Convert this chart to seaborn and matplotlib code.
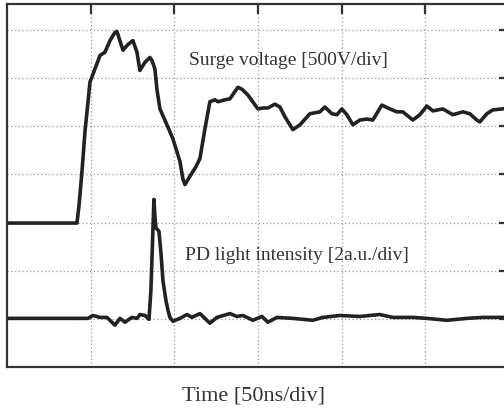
import numpy as np
import pandas as pd
import seaborn as sns
import matplotlib.pyplot as plt

# time axis in divisions (50 ns/div), trace levels in screen divisions
surge_t = [0, 0.824, 0.836, 0.860, 0.896, 0.932, 0.956, 0.992, 1.051, 1.111, 1.171, 1.231,
           1.290, 1.314, 1.386, 1.446, 1.505, 1.553, 1.589, 1.649, 1.708, 1.732, 1.768,
           1.792, 1.828, 1.912, 1.983, 2.067, 2.103, 2.127, 2.186, 2.258, 2.306, 2.366,
           2.425, 2.485, 2.521, 2.604, 2.664, 2.760, 2.808, 2.879, 2.999, 3.059, 3.118,
           3.202, 3.262, 3.321, 3.417, 3.501, 3.620, 3.740, 3.799, 3.883, 3.943, 4.002,
           4.062, 4.134, 4.217, 4.301, 4.373, 4.480, 4.576, 4.659, 4.731, 4.851, 4.934,
           5.018, 5.090, 5.209, 5.329, 5.448, 5.532, 5.615, 5.651, 5.735, 5.806, 5.914, 6.01]
surge_v = [2.99, 2.99, 2.99, 3.34, 4.06, 4.89, 5.30, 5.92, 6.19, 6.47, 6.54, 6.78,
           6.95, 6.97, 6.58, 6.70, 6.78, 6.54, 6.16, 6.33, 6.43, 6.37, 6.19,
           5.77, 5.36, 5.03, 4.74, 4.27, 3.90, 3.79, 3.96, 4.16, 4.33, 4.95,
           5.51, 5.55, 5.51, 5.55, 5.57, 5.81, 5.77, 5.65, 5.36, 5.38, 5.38,
           5.46, 5.40, 5.20, 4.93, 5.03, 5.26, 5.30, 5.40, 5.26, 5.24, 5.36,
           5.24, 5.03, 5.13, 5.15, 5.13, 5.44, 5.36, 5.30, 5.30, 5.13, 5.24,
           5.42, 5.32, 5.36, 5.24, 5.30, 5.26, 5.13, 5.09, 5.26, 5.34, 5.36, 5.38]

pd_t = [0, 0.968, 1.027, 1.111, 1.195, 1.290, 1.350, 1.410, 1.493, 1.553, 1.589, 1.649,
        1.697, 1.720, 1.732, 1.756, 1.768, 1.780, 1.816, 1.840, 1.864, 1.900, 1.924,
        1.947, 1.983, 2.067, 2.151, 2.210, 2.306, 2.425, 2.509, 2.664, 2.748, 2.820,
        2.939, 3.047, 3.118, 3.226, 3.417, 3.656, 3.775, 3.978, 4.217, 4.456, 4.612,
        4.851, 5.018, 5.257, 5.496, 5.687, 5.926, 6.01]
pd_v = [1.01, 1.01, 1.07, 1.03, 1.03, 0.87, 1.01, 0.93, 1.03, 1.01, 1.09, 1.07,
        0.99, 1.59, 2.21, 3.48, 3.13, 2.89, 2.82, 2.37, 1.79, 1.38, 1.18,
        1.03, 0.95, 1.01, 1.09, 1.03, 1.11, 0.91, 1.03, 1.11, 1.05, 1.07,
        0.97, 1.05, 0.93, 1.03, 1.01, 0.97, 1.03, 1.07, 1.05, 1.09, 1.03,
        1.03, 1.01, 0.97, 1.01, 1.03, 1.03, 1.03]

surge = pd.DataFrame({"t": surge_t, "v": surge_v})
light = pd.DataFrame({"t": pd_t, "v": pd_v})

sns.set_style("white")
plt.rcParams["font.family"] = ["Liberation Serif", "DejaVu Serif"]

fig = plt.figure(figsize=(5.04, 4.13), dpi=100)
ax = fig.add_axes([7 / 504, 46 / 413, 502 / 504, 363 / 413])

trace = dict(color="#222222", linewidth=2.6, sort=False, estimator=None)
sns.lineplot(data=surge, x="t", y="v", ax=ax, **trace)
sns.lineplot(data=light, x="t", y="v", ax=ax, **trace)

ax.set_xlim(0, 6)
ax.set_ylim(0, 7.54)
ax.set_xticks(np.arange(1, 6))
ax.set_yticks(np.arange(1, 8))
ax.grid(True, linestyle=(0, (1, 2)), color="#999999", linewidth=0.9)
ax.tick_params(direction="in", length=7, width=1.6, color="#333333",
               top=True, right=True, labelleft=False, labelbottom=False)
for s in ax.spines.values():
    s.set_color("#333333")
    s.set_linewidth(1.6)

ax.set_xlabel("")
ax.set_ylabel("")
ax.text(2.17, 6.28, "Surge voltage [500V/div]", fontsize=14, color="#333333",
        ha="left", va="baseline")
ax.text(2.13, 2.23, "PD light intensity [2a.u./div]", fontsize=14, color="#333333",
        ha="left", va="baseline")
fig.text(254 / 504, 1 - 401 / 413, "Time [50ns/div]", fontsize=16, color="#333333",
         ha="center", va="baseline")

plt.savefig("out.png", dpi=100)
